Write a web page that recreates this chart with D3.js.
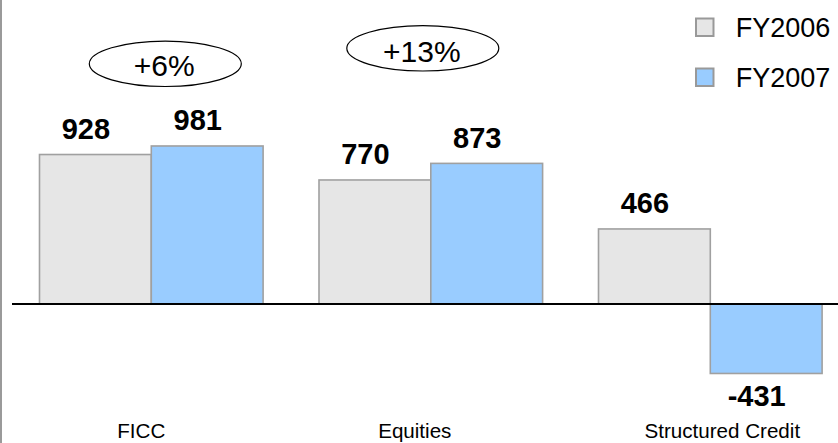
<!DOCTYPE html>
<html>
<head>
<meta charset="utf-8">
<script src="https://cdn.jsdelivr.net/npm/d3@7/dist/d3.min.js"></script>
<style>
  html, body { margin: 0; padding: 0; background: #fff; }
  svg { display: block; font-family: "Liberation Sans", Arial, sans-serif; }
</style>
</head>
<body>
<svg id="chart" width="838" height="443"></svg>
<script>
// Revenue by business line, FY2006 vs FY2007
const categories = ["FICC", "Equities", "Structured Credit"];
const seriesNames = ["FY2006", "FY2007"];
const fy2006 = [928, 770, 466];
const fy2007 = [981, 873, -431];
const growthLabels = ["+6%", "+13%"];

const W = 838, H = 443;
const svg = d3.select("#chart");

const colors = { FY2006: "#e6e6e6", FY2007: "#99ccff" };
const barStroke = "#a0a0a0";

const rows = categories.map((c, i) => ({
  category: c,
  values: [
    { series: "FY2006", value: fy2006[i] },
    { series: "FY2007", value: fy2007[i] }
  ]
}));

const x = d3.scaleBand()
  .domain(categories)
  .range([11.55, 850.05])
  .paddingInner(0.2)
  .paddingOuter(0.1);

const xs = d3.scaleBand()
  .domain(seriesNames)
  .range([0, x.bandwidth()])
  .padding(0);

const y = d3.scaleLinear()
  .domain([-600, 1200])
  .range([400.7, 110.7]);

// left frame line
svg.append("line")
  .attr("x1", 1).attr("x2", 1)
  .attr("y1", 0).attr("y2", H)
  .attr("stroke", "#9a9a9a").attr("stroke-width", 2);

// bars
const groups = svg.append("g").selectAll("g")
  .data(rows)
  .join("g")
  .attr("transform", d => `translate(${x(d.category)},0)`);

groups.selectAll("rect")
  .data(d => d.values)
  .join("rect")
  .attr("x", d => xs(d.series))
  .attr("width", xs.bandwidth())
  .attr("y", d => y(Math.max(0, d.value)))
  .attr("height", d => Math.abs(y(d.value) - y(0)))
  .attr("fill", d => colors[d.series])
  .attr("stroke", barStroke)
  .attr("stroke-width", 1.6);

// value labels
groups.selectAll("text.val")
  .data(d => d.values)
  .join("text")
  .attr("class", "val")
  .attr("x", d => xs(d.series) + xs.bandwidth() / 2 - 9.5)
  .attr("y", d => d.value >= 0 ? y(d.value) - 15.5 : y(d.value) + 32.7)
  .attr("text-anchor", "middle")
  .attr("font-size", 29)
  .attr("font-weight", "bold")
  .attr("fill", "#000")
  .text(d => d.value);

// zero line
svg.append("line")
  .attr("x1", 12).attr("x2", W)
  .attr("y1", y(0)).attr("y2", y(0))
  .attr("stroke", "#000").attr("stroke-width", 2);

// category labels
const labelShift = [-10, -16, 12];
svg.append("g").selectAll("text")
  .data(categories)
  .join("text")
  .attr("x", (d, i) => x(d) + x.bandwidth() / 2 + labelShift[i])
  .attr("y", 438)
  .attr("text-anchor", "middle")
  .attr("font-size", 20.6)
  .attr("fill", "#000")
  .text(d => d);

// growth callouts
const callouts = [
  { cx: 165.3, cy: 63.8, ty: 75.7 },
  { cx: 422.8, cy: 48.3, ty: 61.7 }
];
const cg = svg.append("g").selectAll("g")
  .data(growthLabels)
  .join("g");
cg.append("ellipse")
  .attr("cx", (d, i) => callouts[i].cx)
  .attr("cy", (d, i) => callouts[i].cy)
  .attr("rx", 76).attr("ry", 22.7)
  .attr("fill", "none")
  .attr("stroke", "#000").attr("stroke-width", 1.2);
cg.append("text")
  .attr("x", (d, i) => callouts[i].cx - 1)
  .attr("y", (d, i) => callouts[i].ty)
  .attr("text-anchor", "middle")
  .attr("font-size", 30)
  .attr("fill", "#000")
  .text(d => d);

// legend
const legend = svg.append("g").selectAll("g")
  .data(seriesNames)
  .join("g")
  .attr("transform", (d, i) => `translate(696,${18.5 + i * 50})`);
legend.append("rect")
  .attr("width", 17.5).attr("height", 17.5)
  .attr("fill", d => colors[d])
  .attr("stroke", "#999").attr("stroke-width", 2);
legend.append("text")
  .attr("x", 39.7)
  .attr("y", 18.8)
  .attr("font-size", 27)
  .attr("fill", "#000")
  .text(d => d);
</script>
</body>
</html>
